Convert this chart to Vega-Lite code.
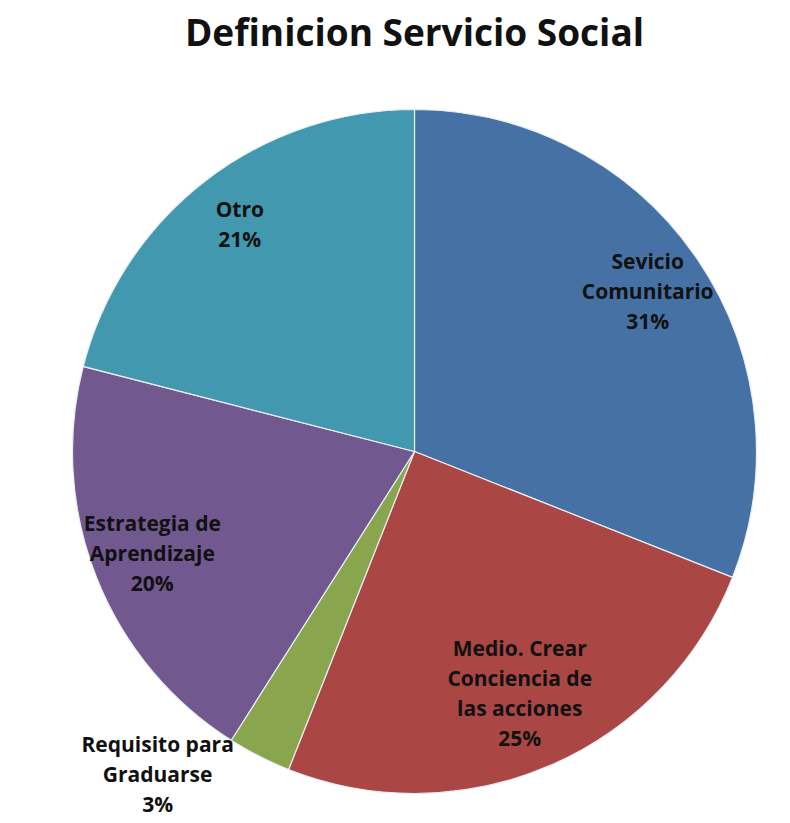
{
  "$schema": "https://vega.github.io/schema/vega-lite/v6.json",
  "autosize": {"type": "fit", "contains": "padding"},
  "width": 790,
  "height": 823,
  "padding": {"top": 16, "left": 0, "right": 0, "bottom": 0},
  "background": "white",
  "title": {
    "text": "Definicion Servicio Social",
    "font": "Open Sans",
    "fontSize": 37,
    "fontWeight": "bold",
    "color": "#111111",
    "anchor": "middle",
    "offset": 26
  },
  "data": {
    "values": [
      {"orden": 1, "categoria": "Sevicio Comunitario", "pct": 31, "lineas": 3, "etiqueta": "Sevicio\nComunitario\n31%"},
      {"orden": 2, "categoria": "Medio. Crear Conciencia de las acciones", "pct": 25, "lineas": 4, "etiqueta": "Medio. Crear\nConciencia de\nlas acciones\n25%"},
      {"orden": 3, "categoria": "Requisito para Graduarse", "pct": 3, "lineas": 0, "etiqueta": "Requisito para\nGraduarse\n3%"},
      {"orden": 4, "categoria": "Estrategia de Aprendizaje", "pct": 20, "lineas": 3, "etiqueta": "Estrategia de\nAprendizaje\n20%"},
      {"orden": 5, "categoria": "Otro", "pct": 21, "lineas": 2, "etiqueta": "Otro\n21%"}
    ]
  },
  "encoding": {
    "theta": {"field": "pct", "type": "quantitative", "stack": true},
    "order": {"field": "orden", "type": "quantitative"}
  },
  "layer": [
    {
      "mark": {"type": "arc", "outerRadius": 342, "stroke": "#e8eef5", "strokeWidth": 1.2},
      "encoding": {
        "color": {
          "field": "categoria",
          "type": "nominal",
          "sort": null,
          "scale": {
            "domain": ["Sevicio Comunitario", "Medio. Crear Conciencia de las acciones", "Requisito para Graduarse", "Estrategia de Aprendizaje", "Otro"],
            "range": ["#4571A5", "#AA4643", "#89A54E", "#71588F", "#4198AF"]
          },
          "legend": null
        }
      }
    },
    {
      "mark": {"type": "text", "radius": 285, "dy": -15, "font": "Open Sans", "fontSize": 21, "fontWeight": "bold", "lineBreak": "\n", "lineHeight": 30, "color": "#111111", "align": "center", "baseline": "middle"},
      "encoding": {
        "text": {"condition": {"test": "datum.lineas == 2", "field": "etiqueta"}, "value": ""}
      }
    },
    {
      "mark": {"type": "text", "radius": 282, "dy": -30, "font": "Open Sans", "fontSize": 21, "fontWeight": "bold", "lineBreak": "\n", "lineHeight": 30, "color": "#111111", "align": "center", "baseline": "middle"},
      "encoding": {
        "text": {"condition": {"test": "datum.lineas == 3", "field": "etiqueta"}, "value": ""}
      }
    },
    {
      "mark": {"type": "text", "radius": 265, "dy": -45, "font": "Open Sans", "fontSize": 21, "fontWeight": "bold", "lineBreak": "\n", "lineHeight": 30, "color": "#111111", "align": "center", "baseline": "middle"},
      "encoding": {
        "text": {"condition": {"test": "datum.lineas == 4", "field": "etiqueta"}, "value": ""}
      }
    },
    {
      "mark": {"type": "text", "radius": 372, "dx": -88, "dy": -37, "font": "Open Sans", "fontSize": 21, "fontWeight": "bold", "lineBreak": "\n", "lineHeight": 30, "color": "#111111", "align": "center", "baseline": "middle"},
      "encoding": {
        "text": {"condition": {"test": "datum.orden == 3", "field": "etiqueta"}, "value": ""}
      }
    }
  ],
  "config": {"view": {"stroke": null}}
}
